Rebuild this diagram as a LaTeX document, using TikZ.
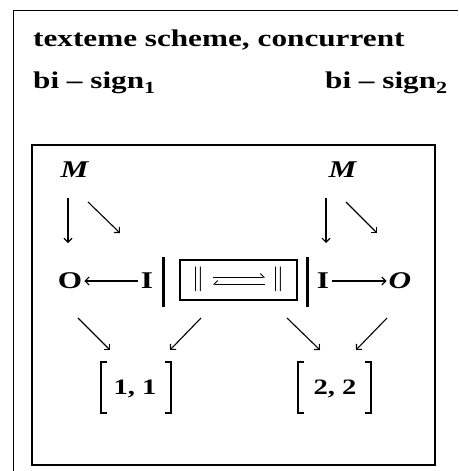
\documentclass[tikz,border=0pt]{standalone}
\usepackage{fontspec}
\setmainfont[FakeStretch=1.3]{Liberation Serif}
\usetikzlibrary{arrows.meta}
\newcommand{\mysub}[1]{\raisebox{-5pt}{\fontsize{17}{17}\selectfont #1}}
\begin{document}
\begin{tikzpicture}[x=1pt,y=-1pt,
  title/.style={font=\bfseries\fontsize{24}{24}\selectfont, inner sep=0pt, anchor=base west},
  lbl/.style={font=\bfseries\fontsize{24}{24}\selectfont, inner sep=0pt},
  num/.style={font=\bfseries\fontsize{22}{22}\selectfont, inner sep=0pt},
  dbar/.style={font=\fontsize{23}{23}\selectfont, inner sep=0pt},
  ar/.style={-{Straight Barb[length=4pt,width=8pt]}, line width=1.1pt},
  bar/.style={line width=3pt},
  brk/.style={line width=2.8pt},
  frame/.style={line width=1.1pt}]
\useasboundingbox (0,0) rectangle (458,471);
% frames
\draw[frame] (458,10.5) -- (13.5,10.5) -- (13.5,471);
\draw[frame] (32,145) rectangle (435,465);
% titles
\node[title] (t1) at (33,46) {texteme scheme,\hspace{8pt}concurrent};
\node[title] (b1) at (33,88) {bi – sign\mysub{1}};
\node[title] (b2) at (325,88) {bi – sign\mysub{2}};
% diagram nodes
\node[lbl] (M1) at (75,170) {\textit{M}};
\node[lbl] (M2) at (343,170) {\textit{M}};
\node[lbl] (O1) at (70,281) {O};
\node[lbl] (I1) at (147,281) {I};
\node[lbl] (I2) at (323,281) {I};
\node[lbl] (O2) at (400,281) {\textit{O}};
\node[draw, frame, minimum width=117, minimum height=40, inner sep=0pt] (box) at (238.5,280) {};
\node[dbar] (p1) at (198,279) {$\|$};
\node[dbar] (p2) at (278,279) {$\|$};
\node[num] (n1) at (135,389) {1, 1};
\node[num] (n2) at (335,389) {2, 2};
% arrow end coordinates
\coordinate (a1) at (68,198); \coordinate (a2) at (68,243);
\coordinate (a3) at (88,202); \coordinate (a4) at (120,233);
\coordinate (a5) at (326,198); \coordinate (a6) at (326,243);
\coordinate (a7) at (346,202); \coordinate (a8) at (377,233);
\coordinate (c1) at (78,318); \coordinate (c2) at (110,350);
\coordinate (c3) at (201,318); \coordinate (c4) at (170,350);
\coordinate (c5) at (287,318); \coordinate (c6) at (320,350);
\coordinate (c7) at (387,318); \coordinate (c8) at (356,350);
\draw[ar] (a1) -- (a2);
\draw[ar] (a3) -- (a4);
\draw[ar] (a5) -- (a6);
\draw[ar] (a7) -- (a8);
\draw[ar] (c1) -- (c2);
\draw[ar] (c3) -- (c4);
\draw[ar] (c5) -- (c6);
\draw[ar] (c7) -- (c8);
\draw[ar] (I1.west) ++(-3,0) -- ([xshift=2pt]O1.east);
\draw[ar] (I2.east) ++(3,0) -- ([xshift=-2pt]O2.west);
% harpoons in box
\coordinate (h1) at (213,277); \coordinate (h2) at (265,277);
\coordinate (h3) at (265,284); \coordinate (h4) at (213,284);
\draw[line width=1pt, -{Straight Barb[harpoon,length=3.5pt,width=7pt]}] (h1) -- (h2);
\draw[line width=1pt, -{Straight Barb[harpoon,swap,length=3.5pt,width=7pt]}] (h3) -- (h4);
% thick bars
\draw[bar] (163,257) -- (163,307);
\draw[bar] (307,257) -- (307,307);
% brackets
\draw[brk] (107,362) -- (101,362) -- (101,413) -- (107,413);
\draw[brk] (165,362) -- (171,362) -- (171,413) -- (165,413);
\draw[brk] (304,362) -- (298,362) -- (298,413) -- (304,413);
\draw[brk] (365,362) -- (371,362) -- (371,413) -- (365,413);
\end{tikzpicture}
\end{document}
